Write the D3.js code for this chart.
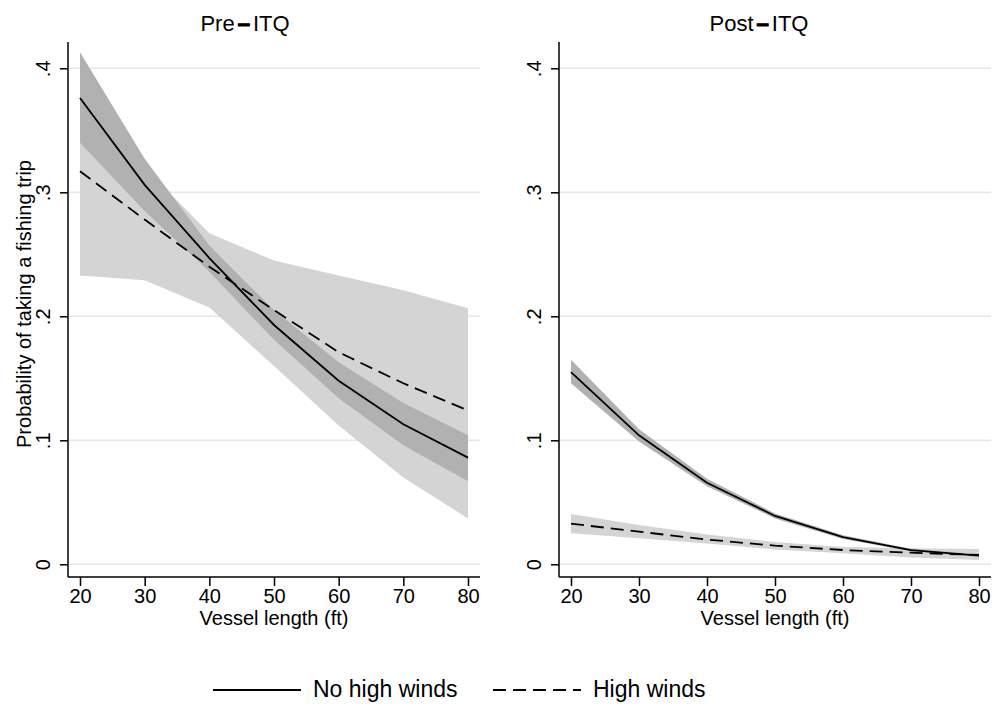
<!DOCTYPE html>
<html>
<head>
<meta charset="utf-8">
<script src="https://cdn.jsdelivr.net/npm/d3@7/dist/d3.min.js"></script>
<style>
  html, body { margin: 0; padding: 0; background: #fff; }
  svg { display: block; font-family: "Liberation Sans", Arial, Helvetica, sans-serif; }
</style>
</head>
<body>
<svg id="chart" width="995" height="706"></svg>
<script>
// ---- data ----
const vesselLength = [20, 30, 40, 50, 60, 70, 80];
const xTicks = [20, 30, 40, 50, 60, 70, 80];
const yTicks = [0, 0.1, 0.2, 0.3, 0.4];
const yTickLabels = ["0", ".1", ".2", ".3", ".4"];

// Pre-ITQ
const preNoWind   = [0.376, 0.306, 0.247, 0.193, 0.148, 0.113, 0.086];
const preNoWindLo = [0.340, 0.285, 0.236, 0.181, 0.134, 0.096, 0.067];
const preNoWindHi = [0.413, 0.327, 0.257, 0.205, 0.163, 0.130, 0.104];
const preWind     = [0.317, 0.278, 0.240, 0.205, 0.171, 0.146, 0.124];
const preWindLo   = [0.233, 0.229, 0.207, 0.160, 0.112, 0.070, 0.037];
const preWindHi   = [0.400, 0.320, 0.267, 0.245, 0.233, 0.221, 0.2065];

// Post-ITQ
const postNoWind   = [0.155, 0.104, 0.0658, 0.039, 0.022, 0.0115, 0.007];
const postNoWindLo = [0.146, 0.099, 0.063, 0.037, 0.0205, 0.0105, 0.006];
const postNoWindHi = [0.165, 0.109, 0.069, 0.041, 0.0235, 0.0125, 0.008];
const postWind     = [0.0328, 0.0263, 0.020, 0.015, 0.0115, 0.0094, 0.0075];
const postWindLo   = [0.025, 0.021, 0.0167, 0.012, 0.009, 0.0055, 0.0035];
const postWindHi   = [0.0406, 0.0317, 0.024, 0.018, 0.014, 0.013, 0.0123];

const panelTitles = ["Pre", "Post"];
const legendLabels = ["No high winds", "High winds"];

// ---- drawing ----
const svg = d3.select("#chart");
svg.append("rect").attr("width", 995).attr("height", 706).attr("fill", "#fff");

const DARK = "#b1b1b1", LIGHT = "#d4d4d4", GRID = "#e6e6e6";
const DASH = "13,7";

const panels = [
  { x0: 68, x1: 480, titleX: 245, title: panelTitles[0],
    nw: preNoWind, nwLo: preNoWindLo, nwHi: preNoWindHi,
    w: preWind, wLo: preWindLo, wHi: preWindHi, ytitle: true },
  { x0: 559, x1: 991, titleX: 759, title: panelTitles[1],
    nw: postNoWind, nwLo: postNoWindLo, nwHi: postNoWindHi,
    w: postWind, wLo: postWindLo, wHi: postWindHi, ytitle: false }
];

const yTop = 42, yBot = 577;
const y = d3.scaleLinear().domain([0, 0.4]).range([564.3, 68.3]);

panels.forEach(p => {
  const g = svg.append("g");
  const x = d3.scaleLinear().domain([20, 80]).range([p.x0 + 12, p.x1 - 12]);

  // gridlines
  g.selectAll("line.grid").data(yTicks).enter().append("line")
    .attr("x1", p.x0).attr("x2", p.x1)
    .attr("y1", d => y(d)).attr("y2", d => y(d))
    .attr("stroke", GRID).attr("stroke-width", 1.5);

  const idx = d3.range(vesselLength.length);
  const area = (lo, hi) => d3.area()
    .x(i => x(vesselLength[i])).y0(i => y(lo[i])).y1(i => y(hi[i]))(idx);
  const line = (v) => d3.line()
    .x(i => x(vesselLength[i])).y(i => y(v[i]))(idx);

  g.append("path").attr("d", area(p.wLo, p.wHi)).attr("fill", LIGHT);
  g.append("path").attr("d", area(p.nwLo, p.nwHi)).attr("fill", DARK);

  g.append("path").attr("d", line(p.w)).attr("fill", "none")
    .attr("stroke", "#000").attr("stroke-width", 1.8).attr("stroke-dasharray", DASH);
  g.append("path").attr("d", line(p.nw)).attr("fill", "none")
    .attr("stroke", "#000").attr("stroke-width", 1.8);

  // x axis
  const xAxis = d3.axisBottom(x).tickValues(xTicks).tickSize(9).tickPadding(3)
    .tickFormat(d3.format("d"));
  const xa = g.append("g").attr("transform", `translate(0,${yBot})`).call(xAxis);
  xa.select(".domain").remove();
  xa.append("line").attr("x1", p.x0).attr("x2", p.x1).attr("y1", 0).attr("y2", 0)
    .attr("stroke", "#000").attr("stroke-width", 1.5);
  xa.selectAll(".tick line").attr("stroke", "#000").attr("stroke-width", 1.5);
  xa.selectAll(".tick text").attr("font-size", 20).attr("fill", "#000")
    .attr("font-family", "Liberation Sans, Arial, sans-serif")
    .attr("dy", null).attr("y", 26);

  // y axis
  const yAxis = d3.axisLeft(y).tickValues(yTicks).tickSize(8)
    .tickFormat((d, i) => yTickLabels[i]);
  const ya = g.append("g").attr("transform", `translate(${p.x0},0)`).call(yAxis);
  ya.select(".domain").remove();
  ya.append("line").attr("x1", 0).attr("x2", 0).attr("y1", yTop).attr("y2", yBot)
    .attr("stroke", "#000").attr("stroke-width", 1.5);
  ya.selectAll(".tick line").attr("stroke", "#000").attr("stroke-width", 1.5);
  ya.selectAll(".tick text").attr("font-size", 20).attr("fill", "#000")
    .attr("font-family", "Liberation Sans, Arial, sans-serif")
    .attr("x", null).attr("dy", null)
    .attr("text-anchor", "middle")
    .attr("transform", "translate(-18,0) rotate(-90)");

  // axis title
  g.append("text").attr("x", (p.x0 + p.x1) / 2).attr("y", 625)
    .attr("text-anchor", "middle").attr("font-size", 20)
    .text("Vessel length (ft)");

  if (p.ytitle) {
    g.append("text")
      .attr("transform", `translate(31,304) rotate(-90)`)
      .attr("text-anchor", "middle").attr("font-size", 20)
      .text("Probability of taking a fishing trip");
  }

  // panel title
  const t = g.append("text").attr("x", p.titleX).attr("y", 31)
    .attr("text-anchor", "middle").attr("font-size", 22);
  t.append("tspan").text(p.title);
  t.append("tspan").attr("dx", 3).attr("font-weight", "bold")
    .attr("stroke", "#000").attr("stroke-width", 1.2).text("–");
  t.append("tspan").attr("dx", 3).text("ITQ");
});

// legend
const lg = svg.append("g");
const legendItems = [
  { x: 213, dash: null, label: legendLabels[0] },
  { x: 493, dash: DASH, label: legendLabels[1] }
];
legendItems.forEach(it => {
  lg.append("line").attr("x1", it.x).attr("x2", it.x + 88)
    .attr("y1", 690).attr("y2", 690)
    .attr("stroke", "#000").attr("stroke-width", 1.8)
    .attr("stroke-dasharray", it.dash);
  lg.append("text").attr("x", it.x + 100).attr("y", 697)
    .attr("font-size", 23).text(it.label);
});
</script>
</body>
</html>
